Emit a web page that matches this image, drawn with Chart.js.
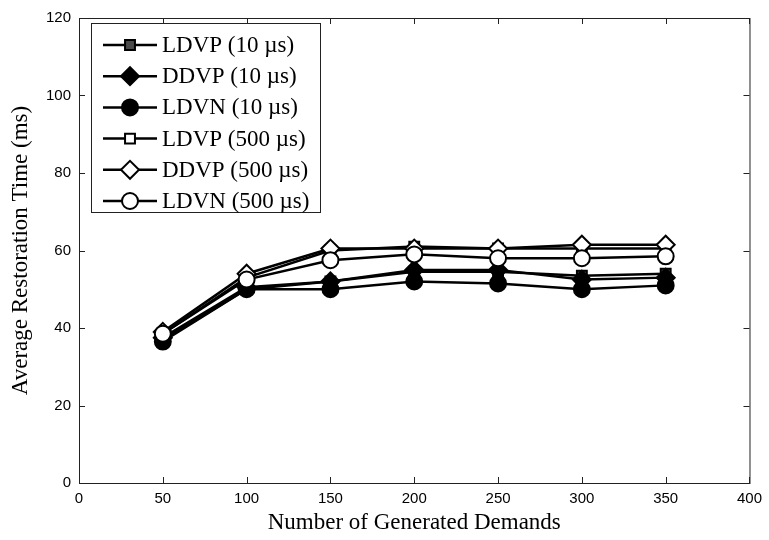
<!DOCTYPE html>
<html>
<head>
<meta charset="utf-8">
<script src="https://cdn.jsdelivr.net/npm/chart.js@4.4.1/dist/chart.umd.min.js"></script>
<style>
  html, body { margin: 0; padding: 0; background: #fff; }
  #wrap { width: 769px; height: 540px; }
</style>
</head>
<body>
<div id="wrap"><canvas id="chart" width="769" height="540"></canvas></div>
<script>
// demands on the x axis
const demands = [50, 100, 150, 200, 250, 300, 350];

// average restoration time (ms)
const ldvp10  = [37.0, 50.0, 52.0, 54.5, 54.5, 53.5, 54.0];
const ddvp10  = [37.5, 50.5, 52.0, 55.0, 55.0, 52.5, 53.0];
const ldvn10  = [36.5, 50.0, 50.0, 52.0, 51.5, 50.0, 51.0];
const ldvp500 = [38.5, 53.0, 60.0, 61.0, 60.5, 60.5, 60.5];
const ddvp500 = [39.0, 54.0, 60.5, 60.5, 60.5, 61.5, 61.5];
const ldvn500 = [38.5, 52.5, 57.5, 59.0, 58.0, 58.0, 58.5];

const seriesNames = ['LDVP (10 µs)', 'DDVP (10 µs)', 'LDVN (10 µs)',
                     'LDVP (500 µs)', 'DDVP (500 µs)', 'LDVN (500 µs)'];
const seriesData  = [ldvp10, ddvp10, ldvn10, ldvp500, ddvp500, ldvn500];

const xTicks = [0, 50, 100, 150, 200, 250, 300, 350, 400];
const yTicks = [0, 20, 40, 60, 80, 100, 120];

// marker look per series
const markers = [
  { style: 'rect',     fill: '#4a4a4a', r: 7 },
  { style: 'rectRot',  fill: '#000',    r: 9 },
  { style: 'circle',   fill: '#000',    r: 8 },
  { style: 'rect',     fill: '#fff',    r: 7 },
  { style: 'rectRot',  fill: '#fff',    r: 9 },
  { style: 'circle',   fill: '#fff',    r: 8 },
];

const serif = '"Liberation Serif", "Times New Roman", serif';
const sans  = '"Liberation Sans", Arial, sans-serif';

const datasets = seriesNames.map((name, i) => ({
  label: name,
  data: demands.map((d, k) => ({ x: d, y: seriesData[i][k] })),
  borderColor: '#000',
  borderWidth: 2.5,
  pointStyle: markers[i].style,
  pointRadius: markers[i].r,
  pointBackgroundColor: markers[i].fill,
  pointBorderColor: '#000',
  pointBorderWidth: 2,
  tension: 0,
  order: 5 - i
}));

/* ---- frame with inside ticks, matlab style ---- */
const framePlugin = {
  id: 'frame',
  beforeDatasetsDraw(chart){
    const { ctx, chartArea: a, scales } = chart;
    ctx.save();
    ctx.strokeStyle = '#222';
    ctx.lineWidth = 1;
    ctx.strokeRect(a.left + 0.5, a.top + 0.5, a.right - a.left, a.bottom - a.top);
    const len = 6;
    ctx.beginPath();
    for (const v of xTicks){
      const px = Math.round(scales.x.getPixelForValue(v)) + 0.5;
      ctx.moveTo(px, a.bottom); ctx.lineTo(px, a.bottom - len);
      ctx.moveTo(px, a.top);    ctx.lineTo(px, a.top + len);
    }
    for (const v of yTicks){
      const py = Math.round(scales.y.getPixelForValue(v)) + 0.5;
      ctx.moveTo(a.left, py);  ctx.lineTo(a.left + len, py);
      ctx.moveTo(a.right, py); ctx.lineTo(a.right - len, py);
    }
    ctx.stroke();
    ctx.restore();
  }
};

/* ---- legend box inside the plot ---- */
const legendPlugin = {
  id: 'boxLegend',
  afterDatasetsDraw(chart){
    const { ctx } = chart;
    const x0 = 91, y0 = 23, w = 229, h = 189;
    const rowH = 31.2, firstY = 45;
    ctx.save();
    ctx.fillStyle = '#fff';
    ctx.fillRect(x0, y0, w, h);
    ctx.strokeStyle = '#222';
    ctx.lineWidth = 1;
    ctx.strokeRect(x0 + 0.5, y0 + 0.5, w, h);
    ctx.font = '23px ' + serif;
    ctx.textBaseline = 'middle';
    seriesNames.forEach((name, i) => {
      const y = firstY + i * rowH;
      ctx.strokeStyle = '#000';
      ctx.lineWidth = 2.5;
      ctx.beginPath();
      ctx.moveTo(103, y); ctx.lineTo(157, y);
      ctx.stroke();
      ctx.lineWidth = 2;
      ctx.fillStyle = markers[i].fill;
      Chart.helpers.drawPoint(ctx, { pointStyle: markers[i].style, radius: markers[i].r, rotation: 0, borderWidth: 2 }, 130, y);
      ctx.fillStyle = '#000';
      ctx.fillText(name, 162, y + 1);
    });
    ctx.restore();
  }
};

new Chart(document.getElementById('chart'), {
  type: 'line',
  data: { datasets },
  options: {
    responsive: false,
    animation: false,
    layout: { padding: { top: 18, right: 17, left: 0, bottom: 0 } },
    plugins: { legend: { display: false }, tooltip: { enabled: false } },
    scales: {
      x: {
        type: 'linear', min: 0, max: 400,
        afterBuildTicks: s => { s.ticks = xTicks.map(v => ({ value: v })); },
        grid: { display: false, drawTicks: false },
        border: { display: false },
        ticks: { color: '#000', padding: 7, font: { family: sans, size: 15 } },
        title: { display: true, text: 'Number of Generated Demands', color: '#000',
                 font: { family: serif, size: 23 }, padding: { top: 2, bottom: 3 } },
        afterFit: s => { s.height = 57; }
      },
      y: {
        min: 0, max: 120,
        afterBuildTicks: s => { s.ticks = yTicks.map(v => ({ value: v })); },
        grid: { display: false, drawTicks: false },
        border: { display: false },
        ticks: { color: '#000', padding: 8, font: { family: sans, size: 15 } },
        title: { display: true, text: 'Average Restoration Time (ms)', color: '#000',
                 font: { family: serif, size: 23 }, padding: { top: 7, bottom: 4 } },
        afterFit: s => { s.width = 79; }
      }
    }
  },
  plugins: [framePlugin, legendPlugin]
});
</script>
</body>
</html>
